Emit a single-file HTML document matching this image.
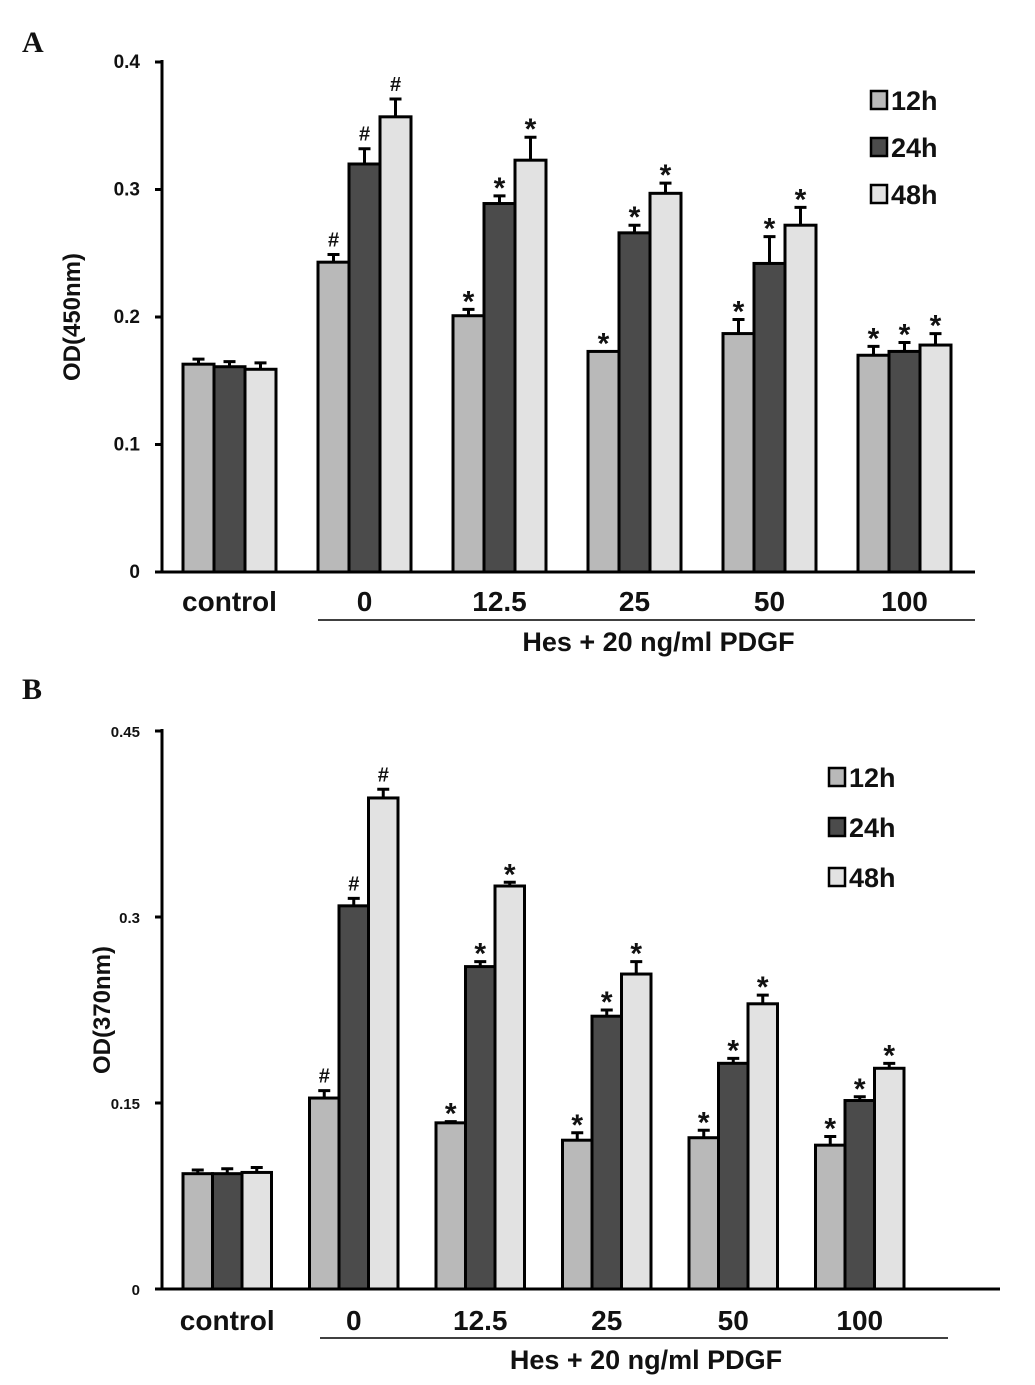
<!DOCTYPE html>
<html><head><meta charset="utf-8"><style>
body{margin:0;background:#fff}
svg{display:block}
text{font-family:"Liberation Sans",sans-serif;font-weight:bold;fill:#111}
text.serif{font-family:"Liberation Serif",serif}
</style></head><body>
<svg id="s" width="1035" height="1385"></svg>
<script>
const categories=["control","0","12.5","25","50","100"];
const seriesNames=["12h","24h","48h"];
const aVals12=[0.163,0.243,0.201,0.173,0.187,0.170];
const aVals24=[0.161,0.320,0.289,0.266,0.242,0.173];
const aVals48=[0.159,0.357,0.323,0.297,0.272,0.178];
const aErr12=[0.004,0.006,0.005,0,0.011,0.007];
const aErr24=[0.004,0.012,0.006,0.006,0.021,0.007];
const aErr48=[0.005,0.014,0.018,0.008,0.014,0.009];
const aMarks=["","#","*","*","*","*"];
const aTicks=[0,0.1,0.2,0.3,0.4];
const bVals12=[0.093,0.154,0.134,0.120,0.122,0.116];
const bVals24=[0.093,0.309,0.260,0.220,0.182,0.152];
const bVals48=[0.094,0.396,0.325,0.254,0.230,0.178];
const bErr12=[0.003,0.006,0.001,0.006,0.006,0.007];
const bErr24=[0.004,0.006,0.004,0.005,0.004,0.003];
const bErr48=[0.004,0.007,0.003,0.010,0.007,0.004];
const bMarks=["","#","*","*","*","*"];
const bTicks=[0,0.15,0.3,0.45];
const colors=["#b9b9b9","#4b4b4b","#e2e2e2"];
const NS="http://www.w3.org/2000/svg";
const svg=document.getElementById('s');
function mk(tag,attrs,parent,txt){const e=document.createElementNS(NS,tag);for(const k in attrs)e.setAttribute(k,attrs[k]);if(txt!==undefined)e.textContent=txt;(parent||svg).appendChild(e);return e;}
function chart(cfg){
  const g=mk('g',{});
  
  
  const y=v=>cfg.base-(v/cfg.max)*(cfg.base-cfg.top);
  const L=mk('text',{x:22,y:cfg.letterY,'font-size':30,'class':'serif'},g,cfg.letter);
  
  const ax=mk('line',{x1:cfg.axX,y1:cfg.top-2,x2:cfg.axX,y2:cfg.base,stroke:'#000','stroke-width':3},g);
  
  const xa=mk('line',{x1:cfg.axX-1,y1:cfg.base,x2:cfg.axEnd,y2:cfg.base,stroke:'#000','stroke-width':3},g);
  
  cfg.ticks.forEach(t=>{
    const tl=mk('line',{x1:cfg.axX-7,y1:y(t),x2:cfg.axX,y2:y(t),stroke:'#000','stroke-width':3},g);
    
    const tt=mk('text',{x:cfg.axX-22,y:y(t)+6,'font-size':cfg.tickFs,'text-anchor':'end'},g,String(t));
    
  });
  const yt=mk('text',{x:0,y:0,'font-size':24,'text-anchor':'middle',transform:`translate(${cfg.titleX},${(cfg.top+cfg.base)/2}) rotate(-90)`},g,cfg.ytitle);
  
  const vals=[cfg.v12,cfg.v24,cfg.v48],errs=[cfg.e12,cfg.e24,cfg.e48];
  categories.forEach((c,i)=>{
    const gx=cfg.x0+i*cfg.gap;
    vals.forEach((arr,s)=>{
      const bx=gx+s*cfg.bw, top=y(arr[i]);
      const r=mk('rect',{x:bx,y:top,width:cfg.bw,height:cfg.base-top,fill:colors[s],stroke:'#000','stroke-width':3},g);
      
      const et=y(arr[i]+errs[s][i]),cx=bx+cfg.bw/2;
      if(errs[s][i]>0){
        const e=mk('path',{d:`M${cx},${top} V${et} M${cx-6},${et} H${cx+6}`,stroke:'#000','stroke-width':3,fill:'none'},g);
        
      }
      if(cfg.marks[i]){
        const star=cfg.marks[i]=='*';
        const m=mk('text',{x:cx,y:star?et+2:et-8,'font-size':star?30:20,'text-anchor':'middle','font-weight':'normal'},g,cfg.marks[i]);
        
      }
    });
    const cl=mk('text',{x:gx+1.5*cfg.bw,y:cfg.catY,'font-size':28,'text-anchor':'middle'},g,c);
    
  });
  const ul=mk('line',{x1:cfg.ulX1,y1:cfg.ulY,x2:cfg.ulX2,y2:cfg.ulY,stroke:'#000','stroke-width':1.5},g);
  
  const gt=mk('text',{x:(cfg.ulX1+cfg.ulX2)/2+12,y:cfg.ulY+31,'font-size':27,'text-anchor':'middle'},g,'Hes + 20 ng/ml PDGF');
  
  seriesNames.forEach((n,s)=>{
    const ly=cfg.legY+s*cfg.legGap;
    const b=mk('rect',{x:cfg.legX,y:ly-9,width:16,height:18,fill:colors[s],stroke:'#000','stroke-width':2.5},g);
    
    const t=mk('text',{x:cfg.legX+20,y:ly+10,'font-size':27},g,n);
    
  });
}
chart({name:'chart-a',letter:'A',letterY:52,axX:162,axEnd:975,top:62,base:572,max:0.4,ticks:aTicks,tickFs:19,titleX:80,ytitle:'OD(450nm)',
  v12:aVals12,v24:aVals24,v48:aVals48,e12:aErr12,e24:aErr24,e48:aErr48,marks:aMarks,x0:183,gap:135,bw:31,catY:611,ulX1:318,ulX2:975,ulY:620,legX:871,legY:100,legGap:47});
chart({name:'chart-b',letter:'B',letterY:699,axX:162,axEnd:1000,top:731,base:1289,max:0.45,ticks:bTicks,tickFs:15,titleX:110,ytitle:'OD(370nm)',
  v12:bVals12,v24:bVals24,v48:bVals48,e12:bErr12,e24:bErr24,e48:bErr48,marks:bMarks,x0:183,gap:126.5,bw:29.5,catY:1330,ulX1:320,ulX2:948,ulY:1338,legX:829,legY:777,legGap:50});
</script>
</body></html>
